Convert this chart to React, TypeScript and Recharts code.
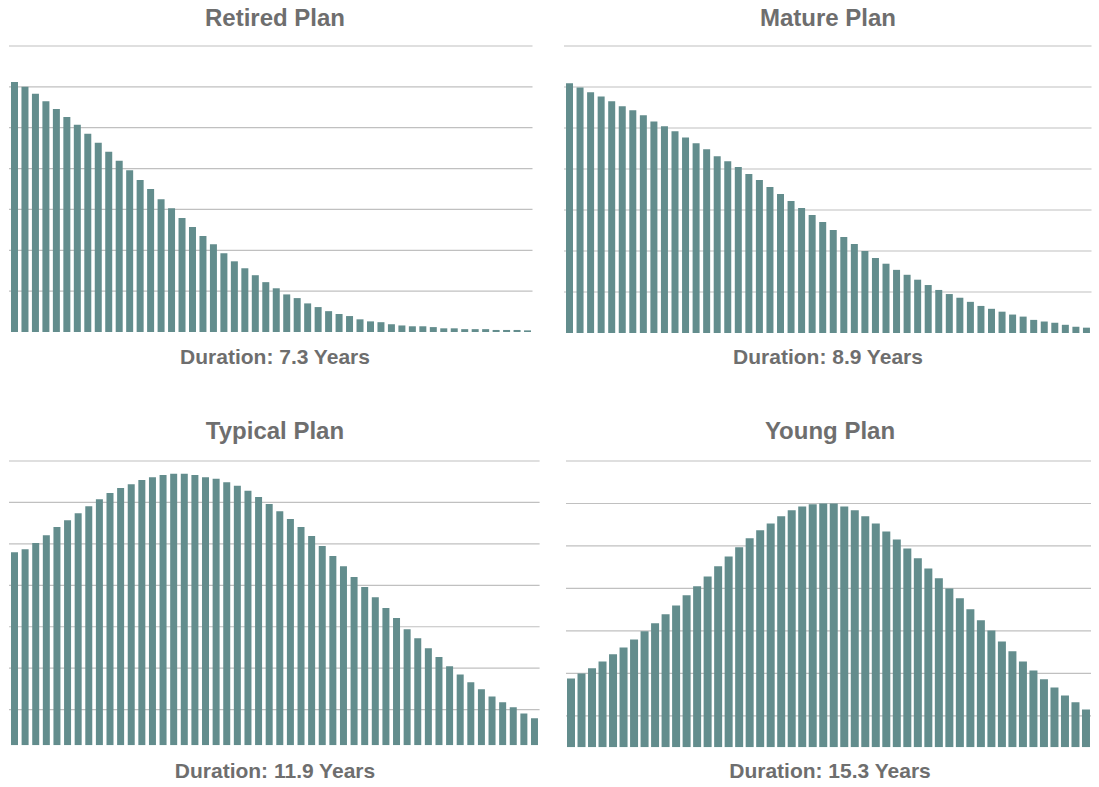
import React from "react";
import { BarChart, Bar, XAxis, YAxis, CartesianGrid } from "recharts";

const years = Array.from({ length: 50 }, (_, i) => i + 1);

// bar heights, in gridline units
const retired = [
  6.12, 6.0, 5.83, 5.65, 5.46, 5.26, 5.07, 4.85, 4.63, 4.41,
  4.19, 3.96, 3.72, 3.5, 3.25, 3.03, 2.79, 2.57, 2.35, 2.15,
  1.93, 1.73, 1.56, 1.39, 1.22, 1.07, 0.92, 0.83, 0.7, 0.61,
  0.51, 0.44, 0.39, 0.31, 0.26, 0.24, 0.19, 0.16, 0.14, 0.14,
  0.12, 0.09, 0.09, 0.07, 0.07, 0.07, 0.05, 0.05, 0.05, 0.04,
];
const mature = [
  6.09, 5.99, 5.87, 5.77, 5.65, 5.53, 5.43, 5.31, 5.16, 5.04,
  4.92, 4.77, 4.63, 4.48, 4.31, 4.19, 4.05, 3.88, 3.73, 3.56,
  3.39, 3.22, 3.05, 2.88, 2.71, 2.51, 2.34, 2.17, 2.0, 1.83,
  1.69, 1.54, 1.42, 1.3, 1.17, 1.05, 0.95, 0.86, 0.76, 0.66,
  0.59, 0.52, 0.45, 0.4, 0.32, 0.28, 0.25, 0.2, 0.15, 0.13,
];
const typical = [
  4.66, 4.73, 4.88, 5.07, 5.27, 5.43, 5.6, 5.77, 5.94, 6.09,
  6.21, 6.3, 6.4, 6.47, 6.52, 6.55, 6.55, 6.52, 6.47, 6.43,
  6.35, 6.26, 6.14, 5.99, 5.82, 5.65, 5.46, 5.27, 5.05, 4.81,
  4.57, 4.32, 4.06, 3.82, 3.57, 3.31, 3.07, 2.8, 2.58, 2.34,
  2.13, 1.91, 1.71, 1.52, 1.35, 1.18, 1.04, 0.92, 0.77, 0.65,
];
const young = [
  1.62, 1.74, 1.86, 2.02, 2.19, 2.35, 2.54, 2.73, 2.92, 3.13,
  3.34, 3.58, 3.79, 4.02, 4.26, 4.49, 4.71, 4.92, 5.11, 5.27,
  5.44, 5.58, 5.67, 5.72, 5.74, 5.74, 5.67, 5.58, 5.44, 5.27,
  5.08, 4.89, 4.68, 4.45, 4.21, 3.98, 3.74, 3.51, 3.25, 2.99,
  2.75, 2.49, 2.26, 2.02, 1.81, 1.6, 1.41, 1.22, 1.06, 0.89,
];

const titles = ["Retired Plan", "Mature Plan", "Typical Plan", "Young Plan"];
const durations = [
  "Duration: 7.3 Years",
  "Duration: 8.9 Years",
  "Duration: 11.9 Years",
  "Duration: 15.3 Years",
];

const topTicks = [0, 1, 2, 3, 4, 5, 6, 7];
const typicalTicks = [0.86, 1.86, 2.86, 3.86, 4.86, 5.86, 6.86];
const youngTicks = [0.74, 1.74, 2.74, 3.74, 4.74, 5.74, 6.74];

const BAR = "#638d8d";
const GRID = "#c0c0c0";
const TEXT = "#6e6e6e";

const Panel = ({ values, ticks, max, left, top, width, height, barSize, title, duration, titleY, durY, cx }: any) => {
  const data = years.map((y, i) => ({ year: y, value: values[i] }));
  const pad = 2;
  return (
    <>
      <div style={{ position: "absolute", left: cx - 200, width: 400, top: titleY - 14, textAlign: "center", font: "bold 24px 'Liberation Sans', Arial, sans-serif", color: TEXT, lineHeight: "28px" }}>
        {title}
      </div>
      <div style={{ position: "absolute", left: left, top: top - pad }}>
        <BarChart
          width={width}
          height={height + pad * 2}
          data={data}
          margin={{ top: pad, right: 0, bottom: pad, left: 0 }}
          barCategoryGap={0}
        >
          <CartesianGrid vertical={false} stroke={GRID} strokeWidth={1.2} horizontalValues={ticks} />
          <XAxis dataKey="year" hide />
          <YAxis hide domain={[0, max]} ticks={ticks} allowDataOverflow />
          <Bar dataKey="value" fill={BAR} barSize={barSize} isAnimationActive={false} />
        </BarChart>
      </div>
      <div style={{ position: "absolute", left: cx - 200, width: 400, top: durY - 12, textAlign: "center", font: "bold 21px 'Liberation Sans', Arial, sans-serif", color: TEXT, lineHeight: "24px" }}>
        {duration}
      </div>
    </>
  );
};

export default function App() {
  return (
    <div style={{ position: "absolute", left: 0, top: 0, width: 1099, height: 787, background: "#fff" }}>
      <Panel values={retired} ticks={topTicks} max={7} left={9.3} top={46} width={523.5} height={286} barSize={7} title={titles[0]} duration={durations[0]} titleY={18} durY={357} cx={275} />
      <Panel values={mature} ticks={topTicks} max={7} left={564.2} top={46} width={527.5} height={287} barSize={7} title={titles[1]} duration={durations[1]} titleY={18} durY={357} cx={828} />
      <Panel values={typical} ticks={typicalTicks} max={6.86} left={9.2} top={460.7} width={530.6} height={284.3} barSize={7} title={titles[2]} duration={durations[2]} titleY={431} durY={771} cx={275} />
      <Panel values={young} ticks={youngTicks} max={6.74} left={565.7} top={460.7} width={525.5} height={286.3} barSize={8} title={titles[3]} duration={durations[3]} titleY={431} durY={771} cx={830} />
    </div>
  );
}
